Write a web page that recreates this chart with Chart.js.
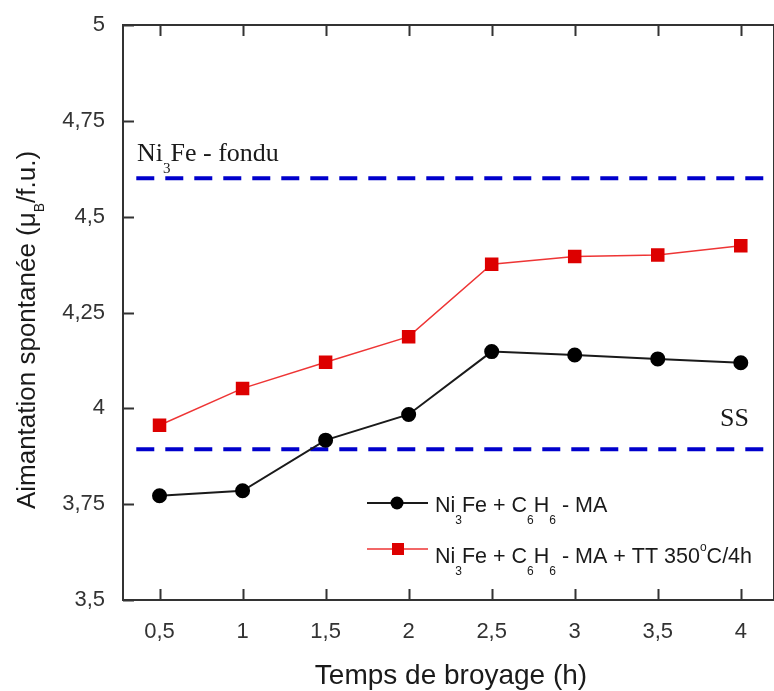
<!DOCTYPE html>
<html>
<head>
<meta charset="utf-8">
<script src="https://cdn.jsdelivr.net/npm/chart.js@4/dist/chart.umd.min.js"></script>
<style>
  html, body { margin: 0; padding: 0; background: #fff; }
  #chart { display: block; }
</style>
</head>
<body>
<canvas id="chart" width="774" height="691"></canvas>
<script>
// Données
const timeHours = [0.5, 1, 1.5, 2, 2.5, 3, 3.5, 4];
const magMA = [3.772, 3.785, 3.917, 3.984, 4.148, 4.139, 4.129, 4.119];
const magMATT = [3.956, 4.052, 4.120, 4.187, 4.376, 4.396, 4.400, 4.424];

const xTickValues = [0.5, 1, 1.5, 2, 2.5, 3, 3.5, 4];
const xTickLabels = ['0,5', '1', '1,5', '2', '2,5', '3', '3,5', '4'];
const yTickValues = [3.5, 3.75, 4, 4.25, 4.5, 4.75, 5];
const yTickLabels = ['3,5', '3,75', '4', '4,25', '4,5', '4,75', '5'];

// lignes de référence (Ni3Fe fondu, SS)
const refFondu = 4.6;
const refSS = 3.893;
const refSpan = [0.36, 4.2];

const SANS = '"Liberation Sans", Arial, sans-serif';
const SERIF = '"Liberation Serif", "Times New Roman", serif';

// texte avec indices / exposants : [texte, 'sub' | 'sup' | '']
function richWidth(ctx, parts, size, family, subSize) {
    let w = 0;
    parts.forEach(p => {
        ctx.font = (p[1] ? subSize : size) + 'px ' + family;
        w += ctx.measureText(p[0]).width;
    });
    return w;
}

function drawRich(ctx, parts, x, y, size, family, subSize, subDy, supDy) {
    let cx = x;
    ctx.textAlign = 'left';
    ctx.textBaseline = 'alphabetic';
    parts.forEach(p => {
        let dy = 0;
        if (p[1] === 'sub') dy = subDy;
        if (p[1] === 'sup') dy = supDy;
        ctx.font = (p[1] ? subSize : size) + 'px ' + family;
        ctx.fillText(p[0], cx, y + dy);
        cx += ctx.measureText(p[0]).width;
    });
}

const legendMA = [['Ni', ''], ['3', 'sub'], ['Fe + C', ''], ['6', 'sub'], ['H', ''], ['6', 'sub'], [' - MA', '']];
const legendTT = [['Ni', ''], ['3', 'sub'], ['Fe + C', ''], ['6', 'sub'], ['H', ''], ['6', 'sub'], [' - MA + TT 350', ''], ['o', 'sup'], ['C/4h', '']];

const decorPlugin = {
    id: 'decor',
    afterDraw(chart) {
        const ctx = chart.ctx;
        const a = chart.chartArea;
        const xs = chart.scales.x;
        const ys = chart.scales.y;
        ctx.save();

        // cadre
        ctx.strokeStyle = '#333';
        ctx.lineWidth = 2;
        ctx.strokeRect(a.left, a.top, a.right - a.left, a.bottom - a.top);

        // graduations vers l'intérieur
        const tl = 11;
        ctx.beginPath();
        xs.ticks.forEach(t => {
            const px = Math.round(xs.getPixelForValue(t.value)) + 0.5;
            ctx.moveTo(px, a.bottom); ctx.lineTo(px, a.bottom - tl);
            ctx.moveTo(px, a.top); ctx.lineTo(px, a.top + tl);
        });
        ys.ticks.forEach(t => {
            const py = Math.round(ys.getPixelForValue(t.value)) + 0.5;
            ctx.moveTo(a.left, py); ctx.lineTo(a.left + tl, py);
        });
        ctx.stroke();

        // annotations
        ctx.fillStyle = '#1a1a1a';
        drawRich(ctx, [['Ni', ''], ['3', 'sub'], ['Fe - fondu', '']], 137, 161, 26, SERIF, 15, 12, 0);
        ctx.font = '26px ' + SERIF;
        ctx.fillText('SS', 720, 426);

        // légende
        const rows = [
            { parts: legendMA, ds: chart.data.datasets[0], y: 503, base: 512 },
            { parts: legendTT, ds: chart.data.datasets[1], y: 549, base: 563 }
        ];
        rows.forEach(r => {
            ctx.strokeStyle = r.ds.borderColor;
            ctx.lineWidth = r.ds.borderWidth;
            ctx.beginPath();
            ctx.moveTo(367, r.y); ctx.lineTo(428, r.y);
            ctx.stroke();
            ctx.fillStyle = r.ds.pointBackgroundColor;
            if (r.ds.pointStyle === 'rect') {
                ctx.fillRect(392, r.y - 6, 12, 12);
            } else {
                ctx.beginPath();
                ctx.arc(397, r.y, r.ds.pointRadius, 0, Math.PI * 2);
                ctx.fill();
            }
            ctx.fillStyle = '#1a1a1a';
            drawRich(ctx, r.parts, 435, r.base, 21.5, SANS, 12, 12, -12);
        });

        // titres des axes
        ctx.fillStyle = '#1a1a1a';
        ctx.font = '28px ' + SANS;
        ctx.textAlign = 'center';
        ctx.textBaseline = 'alphabetic';
        ctx.fillText('Temps de broyage (h)', 451, 684);

        const yParts = [['Aimantation spontanée (μ', ''], ['B', 'sub'], ['/f.u.)', '']];
        const w = richWidth(ctx, yParts, 26, SANS, 14);
        ctx.translate(35, 330);
        ctx.rotate(-Math.PI / 2);
        drawRich(ctx, yParts, -w / 2, 0, 26, SANS, 14, 9, 0);
        ctx.restore();
    }
};

const ctx = document.getElementById('chart').getContext('2d');
new Chart(ctx, {
    type: 'line',
    data: {
        datasets: [{
            label: 'Ni3Fe + C6H6 - MA',
            data: timeHours.map((t, i) => ({ x: t, y: magMA[i] })),
            borderColor: '#1a1a1a',
            borderWidth: 2,
            pointStyle: 'circle',
            pointRadius: 6.5,
            pointBackgroundColor: '#000',
            pointBorderColor: '#000',
            order: 0
        }, {
            label: 'Ni3Fe + C6H6 - MA + TT 350°C/4h',
            data: timeHours.map((t, i) => ({ x: t, y: magMATT[i] })),
            borderColor: '#ee3535',
            borderWidth: 1.5,
            pointStyle: 'rect',
            pointRadius: 8.5,
            pointBackgroundColor: '#dd0000',
            pointBorderColor: '#dd0000',
            order: 0
        }, {
            label: 'Ni3Fe - fondu',
            data: refSpan.map(x => ({ x: x, y: refFondu })),
            borderColor: '#0000cc',
            borderWidth: 4,
            borderDash: [18, 11],
            pointRadius: 0,
            order: 1
        }, {
            label: 'SS',
            data: refSpan.map(x => ({ x: x, y: refSS })),
            borderColor: '#0000cc',
            borderWidth: 4,
            borderDash: [18, 11],
            pointRadius: 0,
            order: 1
        }]
    },
    options: {
        responsive: false,
        animation: false,
        layout: { autoPadding: false, padding: { top: 25, left: 0, right: 0, bottom: 0 } },
        plugins: {
            legend: { display: false },
            tooltip: { enabled: false }
        },
        scales: {
            x: {
                type: 'linear',
                min: 0.28,
                max: 4.2,
                afterBuildTicks: scale => {
                    scale.ticks = xTickValues.map(v => ({ value: v }));
                },
                afterFit: scale => {
                    scale.height = 91;
                    scale.paddingLeft = 0;
                    scale.paddingRight = 0;
                },
                grid: { display: false, drawTicks: false },
                border: { display: false },
                ticks: {
                    padding: 19,
                    color: '#333',
                    font: { family: SANS, size: 22 },
                    maxRotation: 0,
                    callback: (v, i) => xTickLabels[i]
                }
            },
            y: {
                min: 3.5,
                max: 5,
                afterBuildTicks: scale => {
                    scale.ticks = yTickValues.map(v => ({ value: v }));
                },
                afterFit: scale => {
                    scale.width = 123;
                    scale.paddingTop = 0;
                    scale.paddingBottom = 0;
                },
                grid: { display: false, drawTicks: false },
                border: { display: false },
                ticks: {
                    padding: 18,
                    color: '#333',
                    font: { family: SANS, size: 22 },
                    callback: (v, i) => yTickLabels[i]
                }
            }
        }
    },
    plugins: [decorPlugin]
});
</script>
</body>
</html>
